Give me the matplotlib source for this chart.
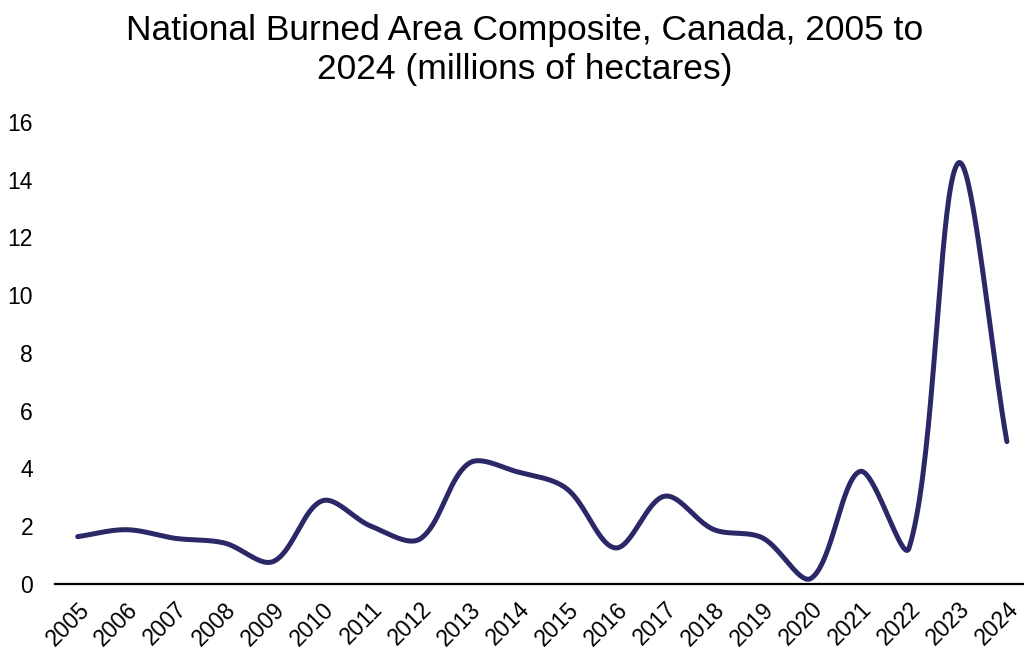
import matplotlib.pyplot as plt
import numpy as np

plt.rcParams['font.family'] = ['Liberation Sans', 'DejaVu Sans']

years = ['2005', '2006', '2007', '2008', '2009', '2010', '2011', '2012', '2013', '2014',
         '2015', '2016', '2017', '2018', '2019', '2020', '2021', '2022', '2023', '2024']
burned = [1.64, 1.88, 1.58, 1.42, 0.78, 2.88, 2.0, 1.56, 4.18, 3.88,
          3.3, 1.25, 3.04, 1.89, 1.6, 0.2, 3.9, 1.25, 14.57, 4.93]

line_color = '#2b2868'


def smooth(xs, ys, sx=1.0, sy=1.0, n=40):
    # spreadsheet-style smoothed line: bezier segments whose control arms
    # are scaled by the neighbouring segment lengths (measured on screen)
    P = np.column_stack([np.asarray(xs, float), np.asarray(ys, float)])
    S = P * [sx, sy]
    m = len(P)
    t = np.linspace(0, 1, n)[:, None]
    out = []
    for i in range(m - 1):
        i0, i1, i2, i3 = max(i - 1, 0), i, i + 1, min(i + 2, m - 1)
        d01 = np.hypot(*(S[i1] - S[i0]))
        d12 = np.hypot(*(S[i2] - S[i1]))
        d23 = np.hypot(*(S[i3] - S[i2]))
        f1 = d12 / (3 * (d01 + d12)) if d01 + d12 > 0 else 0
        f2 = d12 / (3 * (d12 + d23)) if d12 + d23 > 0 else 0
        c1 = P[i1] + (P[i2] - P[i0]) * f1
        c2 = P[i2] - (P[i3] - P[i1]) * f2
        b = (1 - t) ** 3 * P[i1] + 3 * (1 - t) ** 2 * t * c1 + 3 * (1 - t) * t ** 2 * c2 + t ** 3 * P[i2]
        out.append(b if i == 0 else b[1:])
    out = np.vstack(out)
    return out[:, 0], out[:, 1]


x = np.arange(len(years))
# px per unit on each axis, so the arm lengths follow the drawn shape
cx, cy = smooth(x, burned, sx=48.9, sy=28.9)

fig = plt.figure(figsize=(10.24, 6.52), dpi=100)
ax = fig.add_axes([0.0537, 0.1043, 0.9463, 0.7086])
ax.plot(cx, cy, color=line_color, lw=3.6, solid_capstyle='round', clip_on=False)

ax.set_xlim(-0.464, 19.35)
ax.set_ylim(0, 16)
ax.set_yticks(range(0, 17, 2))
ax.set_xticks(x)
ax.set_xticklabels(years, rotation=45, ha='right', rotation_mode='anchor')
ax.tick_params(axis='both', length=0, labelsize=16.5, colors='black')
ax.tick_params(axis='x', pad=10)
ax.tick_params(axis='y', pad=15.8)

for s in ['top', 'right', 'left']:
    ax.spines[s].set_visible(False)
ax.spines['bottom'].set_linewidth(1.6)
ax.spines['bottom'].set_color('black')

fig.text(0.512, 0.978, 'National Burned Area Composite, Canada, 2005 to\n2024 (millions of hectares)',
         ha='center', va='top', fontsize=25.5, linespacing=1.22)

fig.savefig('out.png', dpi=100)
